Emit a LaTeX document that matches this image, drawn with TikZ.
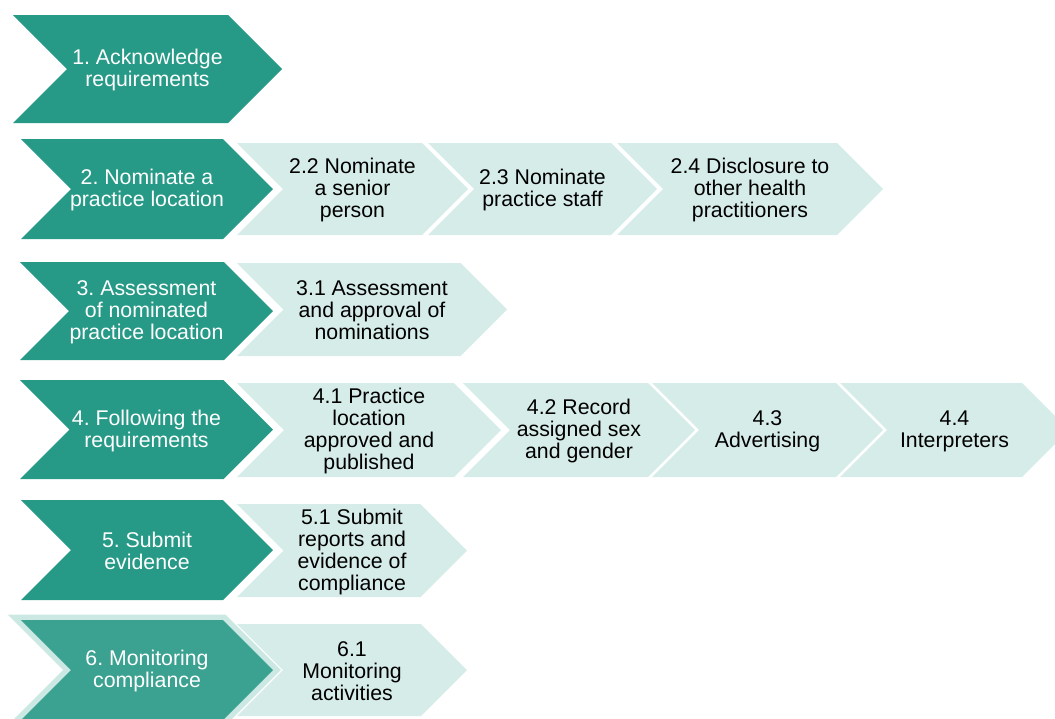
\documentclass[tikz,border=0pt]{standalone}
\usepackage{fontspec}
\setmainfont{Liberation Sans}
\frenchspacing
\definecolor{darkteal}{HTML}{279A87}
\definecolor{selteal}{HTML}{3BA291}
\definecolor{glowteal}{HTML}{CBE8E3}
\definecolor{paleteal}{HTML}{D6ECE8}
\tikzset{
  dark/.style={fill=darkteal},
  dark text/.style={text=white, align=center, font=\fontsize{21.3}{22}\selectfont, inner sep=0pt},
  sel/.style={fill=selteal},
  sel text/.style={text=white, align=center, font=\fontsize{21.3}{22}\selectfont, inner sep=0pt},
  pale/.style={fill=paleteal},
  pale text/.style={text=black, align=center, font=\fontsize{21.3}{22}\selectfont, inner sep=0pt},
}
% #1 style, #2 x0, #3 y0, #4 x1 (tip), #5 y1, #6 node name, #7 text
\newcommand\chevshape[5]{%
  \path[#1] (#2,#3) -- ({#4-(#5-#3)/2},#3) -- (#4,{(#3+#5)/2}) -- ({#4-(#5-#3)/2},#5) -- (#2,#5) -- ({#2+(#5-#3)/2},{(#3+#5)/2}) -- cycle;}
\newcommand\chev[7]{%
  \chevshape{#1}{#2}{#3}{#4}{#5}%
  \node[#1 text] (#6) at ({(#2+#4)/2},{(#3+#5)/2+1}) {#7};}
\begin{document}
\begin{tikzpicture}[x=1pt,y=-1pt]
\useasboundingbox (0,0) rectangle (1055,718);
\clip (0,0) rectangle (1055,718);
% Row 1
\chev{dark}{13}{15}{282}{123}{s1}{1. Acknowledge\\requirements}
% Row 2
\chev{dark}{21}{139}{273}{239}{s2}{2. Nominate a\\practice location}
\chev{pale}{237}{143}{468}{235}{s22}{2.2 Nominate\\a senior\\person}
\chev{pale}{428}{143}{657}{235}{s23}{2.3 Nominate\\practice staff}
\chev{pale}{617}{143}{883}{235}{s24}{2.4 Disclosure to\\other health\\practitioners}
% Row 3
\chev{dark}{20}{262}{273}{360}{s3}{3. Assessment\\of nominated\\practice location}
\chev{pale}{237}{263}{507}{356}{s31}{3.1 Assessment\\and approval of\\nominations}
% Row 4
\chev{dark}{20}{380}{273}{479}{s4}{4. Following the\\requirements}
\chev{pale}{237}{383}{501}{477}{s41}{4.1 Practice\\location\\approved and\\published}
\chev{pale}{463}{383}{695}{477}{s42}{4.2 Record\\assigned sex\\and gender}
\chev{pale}{652}{383}{883}{477}{s43}{4.3\\Advertising}
\chev{pale}{840}{383}{1069}{477}{s44}{4.4\\Interpreters}
% Row 5
\chev{dark}{21}{500}{273}{600}{s5}{5. Submit\\evidence}
\chev{pale}{237}{504}{467}{597}{s51}{5.1 Submit\\reports and\\evidence of\\compliance}
% Row 6 (selected)
\chevshape{draw=glowteal, line width=11pt, line join=miter, miter limit=3}{21}{620}{273}{720}
\chev{sel}{21}{620}{273}{720}{s6}{6. Monitoring\\compliance}
\chev{pale}{237}{624}{467}{716}{s61}{6.1\\Monitoring\\activities}
\end{tikzpicture}
\end{document}
